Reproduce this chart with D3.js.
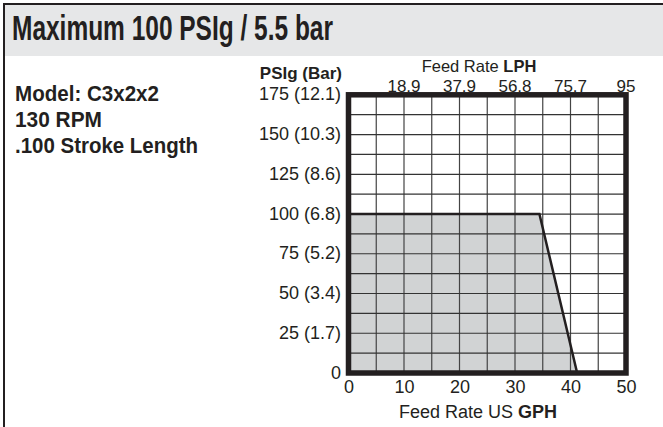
<!DOCTYPE html>
<html>
<head>
<meta charset="utf-8">
<script src="https://cdn.jsdelivr.net/npm/d3@7"></script>
<style>
  body { margin: 0; background: #fff; }
  text { fill: #231f20; }
  .narrow { font-family: "Liberation Sans", Arial, sans-serif; font-weight: bold; }
  .reg { font-family: "Liberation Sans", Arial, sans-serif; }
</style>
</head>
<body>
<div id="chart"></div>
<script>
// chart data
var gphTicks = [0, 10, 20, 30, 40, 50]
var lphGph = [10, 20, 30, 40, 50]
var lphLabels = ["18.9", "37.9", "56.8", "75.7", "95"]
var psiTicks = [0, 25, 50, 75, 100, 125, 150, 175]
var barLabels = ["", "1.7", "3.4", "5.2", "6.8", "8.6", "10.3", "12.1"]
var curveGph = [0, 0, 34.4, 41.2]
var curvePsi = [0, 100, 100, 0]
var infoLines = ["Model: C3x2x2", "130 RPM", ".100 Stroke Length"]
var infoWidths = [144, 87, 183]

var width = 663, height = 427
var dark = "#231f20"

var svg = d3.select("#chart").append("svg")
  .attr("width", width)
  .attr("height", height)

// header band and outer frame
svg.append("rect").attr("x", 5).attr("y", 5).attr("width", width).attr("height", 51).attr("fill", "#e6e7e8")
svg.append("path").attr("d", "M4," + height + "V4H" + width).attr("fill", "none").attr("stroke", dark).attr("stroke-width", 2)

// condensed look: squeeze bold text to the widths in the picture
svg.append("text").attr("class", "narrow")
  .attr("x", 12).attr("y", 40)
  .style("font-size", "35px")
  .attr("textLength", 321).attr("lengthAdjust", "spacingAndGlyphs")
  .text("Maximum 100 PSIg / 5.5 bar")

svg.selectAll(".info").data(infoLines).enter().append("text")
  .attr("class", "narrow info")
  .attr("x", 15)
  .attr("y", function(d, i) { return 101 + i * 26 })
  .style("font-size", "22px")
  .attr("textLength", function(d, i) { return infoWidths[i] })
  .attr("lengthAdjust", "spacingAndGlyphs")
  .text(function(d) { return d })

// scales
var x = d3.scaleLinear().domain([0, 50]).range([348.5, 626])
var y = d3.scaleLinear().domain([0, 175]).range([373, 94.8])

// shaded operating area
var area = d3.line().x(function(d) { return x(d[0]) }).y(function(d) { return y(d[1]) })
var pts = curveGph.map(function(g, i) { return [g, curvePsi[i]] })
svg.append("path").attr("d", area(pts) + "Z").attr("fill", "#d1d3d4")

// grid
var g = svg.append("g")
g.selectAll(".vg").data(d3.range(5, 50, 5)).enter().append("line")
  .attr("x1", function(d) { return x(d) }).attr("x2", function(d) { return x(d) })
  .attr("y1", y(175)).attr("y2", y(0))
  .attr("stroke", "#444").attr("stroke-width", 1.2)
g.selectAll(".hg").data(d3.range(12.5, 175, 12.5)).enter().append("line")
  .attr("y1", function(d) { return y(d) }).attr("y2", function(d) { return y(d) })
  .attr("x1", x(0)).attr("x2", x(50))
  .attr("stroke", "#333").attr("stroke-width", 1.2)

// curve
svg.append("path").attr("d", area(pts.slice(1)))
  .attr("fill", "none").attr("stroke", dark).attr("stroke-width", 2.5)

// frame
svg.append("rect")
  .attr("x", x(0)).attr("y", y(175))
  .attr("width", x(50) - x(0)).attr("height", y(0) - y(175))
  .attr("fill", "none").attr("stroke", dark).attr("stroke-width", 5.5)

// bottom axis
var xAxis = d3.axisBottom(x).tickValues(gphTicks).tickSize(0).tickPadding(0)
var xa = svg.append("g").attr("transform", "translate(0,393)").call(xAxis)
xa.select(".domain").remove()
xa.selectAll("text").attr("class", "reg").attr("dy", 0).style("font-size", "18px").attr("fill", dark)

// top axis (LPH)
svg.selectAll(".lph").data(lphGph).enter().append("text")
  .attr("class", "reg")
  .attr("x", function(d) { return x(d) })
  .attr("y", 91.5)
  .attr("text-anchor", "middle")
  .style("font-size", "17px")
  .text(function(d, i) { return lphLabels[i] })

// left axis
var yAxis = d3.axisLeft(y).tickValues(psiTicks).tickSize(0).tickPadding(0)
  .tickFormat(function(d, i) { return barLabels[i] ? d + " (" + barLabels[i] + ")" : d })
var ya = svg.append("g").attr("transform", "translate(341,0)").call(yAxis)
ya.select(".domain").remove()
ya.selectAll("text").attr("class", "reg").attr("dy", 5).style("font-size", "18px").attr("fill", dark)

// axis titles
svg.append("text").attr("class", "reg")
  .attr("x", 342).attr("y", 79).attr("text-anchor", "end")
  .style("font-size", "17px").style("font-weight", "bold")
  .text("PSIg (Bar)")

var t1 = svg.append("text").attr("class", "reg")
  .attr("x", 479).attr("y", 72).attr("text-anchor", "middle").style("font-size", "16.5px")
t1.append("tspan").text("Feed Rate ")
t1.append("tspan").style("font-weight", "bold").text("LPH")

var t2 = svg.append("text").attr("class", "reg")
  .attr("x", 478).attr("y", 418).attr("text-anchor", "middle").style("font-size", "18px")
t2.append("tspan").text("Feed Rate US ")
t2.append("tspan").style("font-weight", "bold").text("GPH")
</script>
</body>
</html>
